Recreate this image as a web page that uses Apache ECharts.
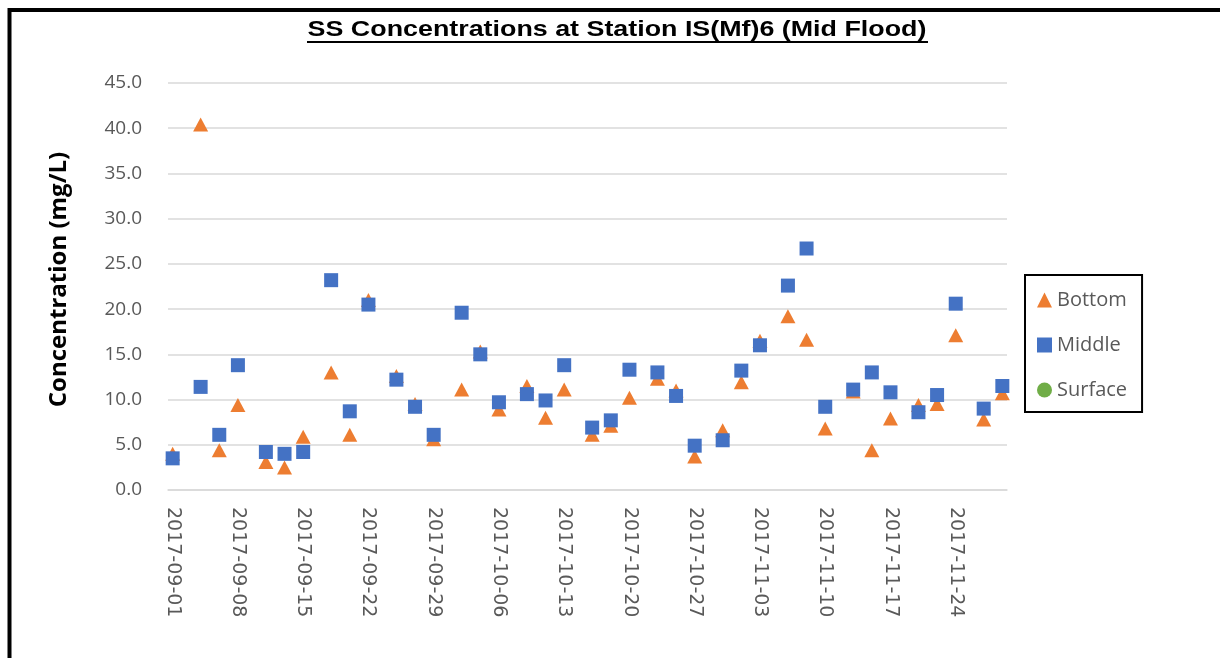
<!DOCTYPE html>
<html>
<head>
<meta charset="utf-8">
<title>SS Concentrations at Station IS(Mf)6 (Mid Flood)</title>
<script src="https://cdn.jsdelivr.net/npm/echarts@6/dist/echarts.min.js"></script>
<style>
    html, body { margin: 0; padding: 0; background: #fff; }
    #chart { width: 1220px; height: 658px; }
</style>
</head>
<body>
<div id="chart"></div>
<script>
// sampling dates
const dates = [
    '2017-09-01', '2017-09-04', '2017-09-06', '2017-09-08', '2017-09-11', '2017-09-13', '2017-09-15',
    '2017-09-18', '2017-09-20', '2017-09-22', '2017-09-25', '2017-09-27', '2017-09-29',
    '2017-10-02', '2017-10-04', '2017-10-06', '2017-10-09', '2017-10-11', '2017-10-13', '2017-10-16',
    '2017-10-18', '2017-10-20', '2017-10-23', '2017-10-25', '2017-10-27', '2017-10-30',
    '2017-11-01', '2017-11-03', '2017-11-06', '2017-11-08', '2017-11-10', '2017-11-13', '2017-11-15',
    '2017-11-17', '2017-11-20', '2017-11-22', '2017-11-24', '2017-11-27', '2017-11-29'
];
const bottom = [
    4.0, 40.4, 4.4, 9.4, 3.1, 2.5, 5.9, 13.0, 6.1, 21.0, 12.6, 9.5, 5.6,
    11.1, 15.3, 8.9, 11.5, 8.0, 11.1, 6.1, 7.1, 10.2, 12.3, 11.0, 3.7, 6.6,
    11.9, 16.5, 19.2, 16.6, 6.8, 10.9, 4.4, 7.9, 9.4, 9.5, 17.1, 7.8, 10.7
];
const middle = [
    3.5, 11.4, 6.1, 13.8, 4.2, 4.0, 4.2, 23.2, 8.7, 20.5, 12.2, 9.2, 6.1,
    19.6, 15.0, 9.7, 10.6, 9.9, 13.8, 6.9, 7.7, 13.3, 13.0, 10.4, 4.9, 5.5,
    13.2, 16.0, 22.6, 26.7, 9.2, 11.1, 13.0, 10.8, 8.6, 10.5, 20.6, 9.0, 11.5
];
const surface = [];

// axis: one category per day, 2017-09-01 .. 2017-11-29
const axisStart = '2017-09-01';
const axisDays = 90;
const days = [];
for (let i = 0; i < axisDays; i++) {
    let d = new Date(axisStart + 'T00:00:00Z');
    d.setUTCDate(d.getUTCDate() + i);
    days.push(d.toISOString().slice(0, 10));
}

const pairs = (vals) => vals.map((v, i) => [dates[i], v]);

let myChart = echarts.init(document.getElementById('chart'));
myChart.setOption({
    animation: false,
    grid: {
        left: 168,
        right: 213,
        top: 83,
        bottom: 168
    },
    legend: {
        orient: 'vertical',
        left: 1025,
        top: 275,
        padding: [15, 15, 12, 12],
        itemGap: 25,
        itemWidth: 15,
        itemHeight: 15,
        borderColor: '#000',
        borderWidth: 2,
        textStyle: {
            fontFamily: '"Open Sans", sans-serif',
            fontSize: 20,
            color: '#595959'
        },
        data: [
            { name: 'Bottom', icon: 'triangle' },
            { name: 'Middle', icon: 'rect' },
            { name: 'Surface', icon: 'circle' }
        ]
    },
    xAxis: {
        type: 'category',
        data: days,
        boundaryGap: true,
        axisLine: { lineStyle: { color: '#d9d9d9', width: 1.5 } },
        axisTick: { show: false },
        axisLabel: {
            interval: 6,
            rotate: -90,
            margin: 17,
            fontFamily: '"DejaVu Sans", sans-serif',
            fontSize: 19,
            color: '#595959'
        },
        splitLine: { show: false }
    },
    yAxis: {
        type: 'value',
        min: 0,
        max: 45,
        interval: 5,
        name: 'Concentration (mg/L)',
        nameLocation: 'middle',
        nameRotate: 90,
        nameGap: 97,
        nameTextStyle: {
            fontFamily: '"Open Sans", sans-serif',
            fontWeight: 'bold',
            fontSize: 24,
            color: '#000',
            padding: [0, 0, 0, 14]
        },
        axisLine: { show: false },
        axisTick: { show: false },
        axisLabel: {
            margin: 26,
            fontFamily: '"Open Sans", sans-serif',
            fontSize: 19,
            color: '#595959',
            formatter: (v) => v.toFixed(1)
        },
        splitLine: { lineStyle: { color: '#d9d9d9', width: 1.5 } }
    },
    series: [
        {
            name: 'Bottom',
            type: 'scatter',
            symbol: 'triangle',
            symbolSize: [15, 14],
            itemStyle: { color: '#ED7D31', opacity: 1 },
            data: pairs(bottom)
        },
        {
            name: 'Middle',
            type: 'scatter',
            symbol: 'rect',
            symbolSize: 14,
            itemStyle: { color: '#4472C4', opacity: 1 },
            data: pairs(middle)
        },
        {
            name: 'Surface',
            type: 'scatter',
            symbol: 'circle',
            symbolSize: 13,
            itemStyle: { color: '#70AD47', opacity: 1 },
            data: pairs(surface)
        }
    ],
    graphic: [
        // outer frame, only top and left edges fall inside the picture
        {
            type: 'rect',
            shape: { x: 9.5, y: 10, width: 1400, height: 1000 },
            style: { fill: 'none', stroke: '#000', lineWidth: 4 }
        },
        // title, stretched wide like the original
        {
            type: 'text',
            x: 617,
            y: 30,
            scaleX: 1.22,
            style: {
                text: 'SS Concentrations at Station IS(Mf)6 (Mid Flood)',
                font: 'bold 22px "Liberation Sans", Arial, sans-serif',
                fill: '#000',
                textAlign: 'center',
                textVerticalAlign: 'middle'
            }
        },
        // title underline
        {
            type: 'line',
            shape: { x1: 307, y1: 42, x2: 928, y2: 42 },
            style: { stroke: '#000', lineWidth: 2 }
        }
    ]
});
</script>
</body>
</html>
